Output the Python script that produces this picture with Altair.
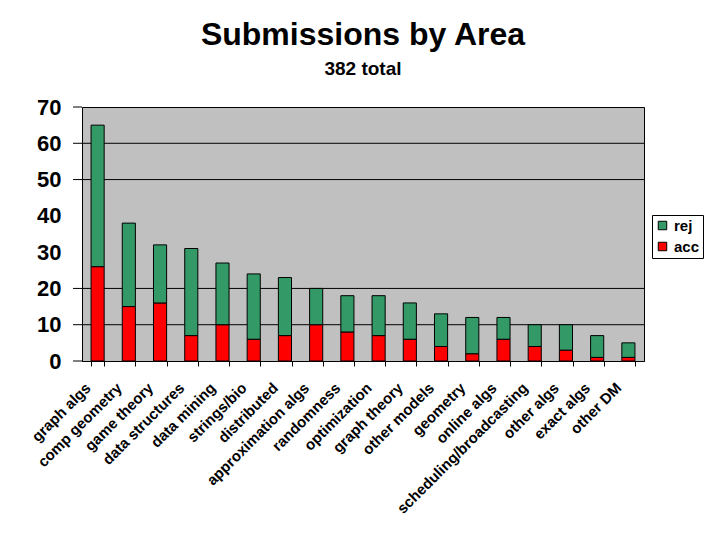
import altair as alt
import pandas as pd

areas = ["graph algs", "comp geometry", "game theory", "data structures", "data mining",
         "strings/bio", "distributed", "approximation algs", "randomness", "optimization",
         "graph theory", "other models", "geometry", "online algs", "scheduling/broadcasting",
         "other algs", "exact algs", "other DM"]
acc = [26, 15, 16, 7, 10, 6, 7, 10, 8, 7, 6, 4, 2, 6, 4, 3, 1, 1]
rej = [39, 23, 16, 24, 17, 18, 16, 10, 10, 11, 10, 9, 10, 6, 6, 7, 6, 4]
y_labels = [0, 10, 20, 30, 40, 50, 60, 70]
grid_lines = [10, 20, 50, 60]
tick_marks = [0, 10, 20, 50, 60, 70]
series = ["rej", "acc"]
colors = ["#339966", "#FF0000"]

rows = []
for a, ac, rj in zip(areas, acc, rej):
    rows.append({"area": a, "status": "acc", "count": ac, "stack": 0})
    rows.append({"area": a, "status": "rej", "count": rj, "stack": 1})
df = pd.DataFrame(rows)

FONT = "Liberation Sans"
yscale = alt.Scale(domain=[0, 70], nice=False)
yaxis = alt.Axis(values=y_labels, grid=False, ticks=False, domainColor="black",
                 labelFont=FONT, labelFontWeight="bold", labelFontSize=22,
                 labelColor="black", labelPadding=21, title=None)

bars = alt.Chart(df).mark_bar(stroke="black", strokeWidth=1).encode(
    x=alt.X("area:N", sort=areas, title=None,
            scale=alt.Scale(paddingInner=0.58, paddingOuter=0.29),
            axis=alt.Axis(labelAngle=-45, labelAlign="right", labelBaseline="middle",
                          labelFont=FONT, labelFontWeight="bold", labelFontSize=15,
                          labelColor="black", tickBand="extent", tickColor="black",
                          tickSize=5, domainColor="black", labelPadding=19,
                          labelOffset=-10, labelOverlap=False, labelLimit=0)),
    y=alt.Y("count:Q", stack="zero", title=None, scale=yscale, axis=yaxis),
    color=alt.Color("status:N", scale=alt.Scale(domain=series, range=colors),
                    legend=alt.Legend(title=None, orient="none", legendX=570, legendY=108,
                                      fillColor="white", strokeColor="black", padding=3,
                                      symbolType="square", symbolSize=72,
                                      symbolStrokeColor="black", symbolStrokeWidth=1,
                                      labelFont=FONT, labelFontWeight="bold",
                                      labelFontSize=15, labelColor="black", rowPadding=5,
                                      labelOffset=4)),
    order=alt.Order("stack:Q"),
)

grid = alt.Chart(pd.DataFrame({"v": grid_lines})).mark_rule(color="black", strokeWidth=1).encode(
    y=alt.Y("v:Q", scale=yscale, axis=yaxis, title=None)
)

ticks = alt.Chart(pd.DataFrame({"v": tick_marks})).mark_rule(color="black", strokeWidth=1).encode(
    y=alt.Y("v:Q", scale=yscale, axis=yaxis, title=None), x=alt.value(-9), x2=alt.value(0)
)

chart = alt.layer(grid, bars, ticks).properties(
    width=562, height=254,
    title=alt.TitleParams("Submissions by Area", subtitle="382 total", font=FONT,
                          fontSize=32, fontWeight="bold", color="black",
                          subtitleFont=FONT, subtitleFontSize=19,
                          subtitleFontWeight="bold", subtitleColor="black",
                          anchor="middle", offset=16, subtitlePadding=8),
    autosize=alt.AutoSizeParams(type="none"),
    padding={"left": 74, "top": 99, "right": 68, "bottom": 171},
).configure_view(fill="#C0C0C0", stroke="black", strokeWidth=1)

chart.save("out.html", embed_options={"renderer": "svg", "actions": False})
